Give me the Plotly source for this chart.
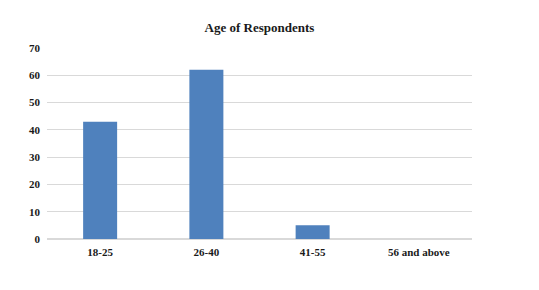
import plotly.graph_objects as go

categories = ["18-25", "26-40", "41-55", "56 and above"]
values = [43, 62, 5, 0]
y_ticks = [0, 10, 20, 30, 40, 50, 60, 70]

fig = go.Figure(go.Bar(x=categories, y=values, marker=dict(color="#4F81BD", line=dict(width=0))))

font = "Liberation Serif, Times New Roman, serif"
fig.update_layout(
    width=539, height=290,
    margin=dict(l=39, r=75, t=40, b=59, autoexpand=False),
    paper_bgcolor="white", plot_bgcolor="white",
    bargap=0.68,
    showlegend=False,
    title=dict(text="<b>Age of Respondents</b>", x=0.5, xref="paper", y=1, yref="container",
               yanchor="top", pad=dict(t=15), font=dict(family=font, size=13, color="#1a1a1a")),
    font=dict(family=font, size=11, color="#1a1a1a"),
)
fig.update_xaxes(showline=False, ticks="", ticklabelstandoff=5,
                 tickfont=dict(family=font, size=11, color="#1a1a1a"),
                 tickprefix="<b>", ticksuffix="</b>")
fig.update_yaxes(range=[0, 70], tickvals=y_ticks, ticktext=[f"<b>{v}</b>" for v in y_ticks],
                 showgrid=True, gridcolor="#d9d9d9", gridwidth=1, zeroline=True, zerolinecolor="#d9d9d9",
                 ticks="", ticklabelstandoff=6, tickfont=dict(family=font, size=11, color="#1a1a1a"))

fig.write_html("out.html")
